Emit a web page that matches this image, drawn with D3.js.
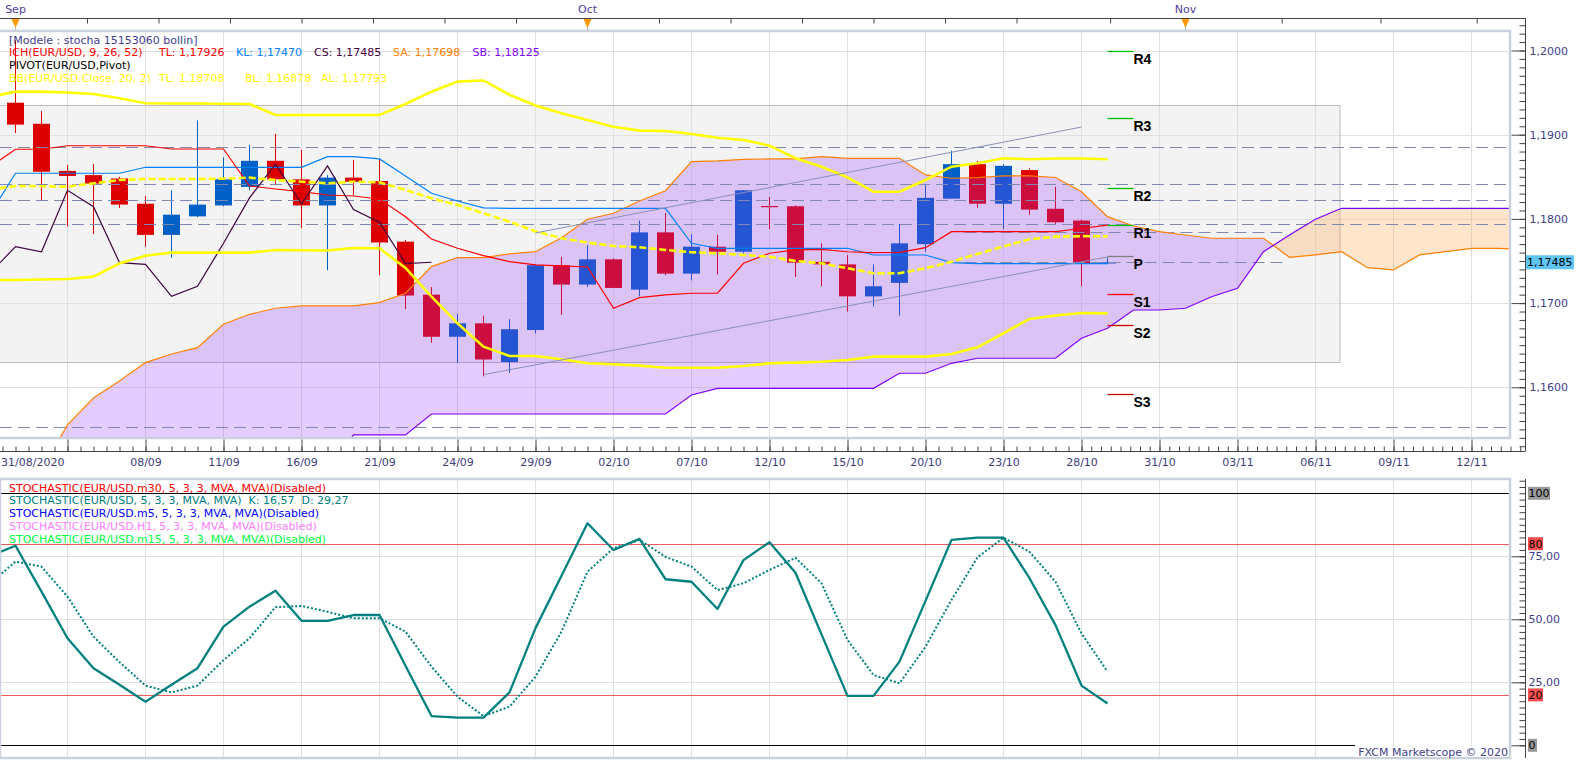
<!DOCTYPE html>
<html>
<head>
<meta charset="utf-8">
<script src="https://d3js.org/d3.v7.min.js"></script>
<style>
  body { margin: 0; background: #fff; }
  text { font-family: "DejaVu Sans", Verdana, sans-serif; font-size: 11px; }
</style>
</head>
<body>
<svg width="1583" height="760"></svg>
<script>
// ---- candles, one per trading day, index 0 = 01/09/2020 ... 42 = 29/10/2020
var opens  = [1.1938,1.1913,1.1857,1.1852,1.1848,1.1818,1.1781,1.1803,1.1816,1.1838,1.1869,1.1847,1.1816,1.1849,1.1845,1.1773,1.1710,1.1660,1.1676,1.1630,1.1668,1.1745,1.1722,1.1752,1.1716,1.1784,1.1735,1.1767,1.1761,1.18153,1.1815,1.1749,1.1746,1.1708,1.1724,1.1770,1.1824,1.1865,1.1818,1.1858,1.1812,1.1798,1.1748];
var highs  = [1.2012,1.1928,1.1864,1.1865,1.1850,1.1827,1.1834,1.1917,1.1873,1.1888,1.1901,1.1882,1.1852,1.1870,1.1871,1.1775,1.1719,1.1687,1.1685,1.1681,1.1746,1.1755,1.1769,1.1753,1.1798,1.1807,1.1782,1.1781,1.1834,1.1826,1.1816,1.1771,1.1757,1.1746,1.1794,1.1840,1.1881,1.1869,1.1865,1.1860,1.1838,1.1799,1.1754];
var lows   = [1.1902,1.1822,1.1791,1.1782,1.1813,1.1767,1.1754,1.1802,1.1815,1.1834,1.1840,1.1789,1.1739,1.1828,1.1733,1.1693,1.1653,1.1629,1.1613,1.1617,1.1664,1.1686,1.1719,1.1718,1.1708,1.1733,1.1727,1.1734,1.1759,1.1788,1.1731,1.1720,1.1690,1.1696,1.1685,1.1761,1.1824,1.1813,1.1788,1.1805,1.1794,1.1720,1.1746];
var closes = [1.1912,1.1856,1.1851,1.1842,1.1817,1.1781,1.1805,1.1817,1.1847,1.1869,1.1847,1.1816,1.1849,1.1844,1.1772,1.1709,1.1660,1.1676,1.1633,1.1669,1.1745,1.1722,1.1752,1.1718,1.1784,1.1735,1.1767,1.1761,1.1834,1.18145,1.1748,1.1746,1.1708,1.1720,1.1771,1.1825,1.1865,1.1818,1.1863,1.1811,1.1796,1.1747,1.17485];

// ---- ichimoku (tenkan / kijun start at index -1, senkou A / B start at index 1)
var tenkan = [1.18613,1.18827,1.18827,1.18869,1.18869,1.18869,1.18869,1.18830,1.18830,1.18830,1.18391,1.18355,1.18323,1.18284,1.18272,1.18236,1.18026,1.17761,1.17651,1.17563,1.17492,1.17453,1.17441,1.17429,1.16938,1.17064,1.17097,1.17117,1.17117,1.17473,1.17592,1.17631,1.17639,1.17610,1.17599,1.17603,1.17658,1.17848,1.17848,1.17848,1.17848,1.17848,1.17886,1.17926];
var kijun  = [1.18047,1.18542,1.18542,1.18542,1.18542,1.18542,1.18613,1.18613,1.18613,1.18613,1.18613,1.18613,1.18613,1.18739,1.18739,1.18712,1.18510,1.18304,1.18213,1.18130,1.18126,1.18126,1.18126,1.18126,1.18126,1.18126,1.18126,1.17710,1.17651,1.17651,1.17651,1.17651,1.17651,1.17651,1.17571,1.17571,1.17571,1.17480,1.17470,1.17470,1.17470,1.17470,1.17470,1.17470];
var senkouA = [1.15018,1.15553,1.15873,1.16075,1.16293,1.16396,1.16471,1.16749,1.16867,1.16939,1.16966,1.16966,1.16966,1.17005,1.17117,1.17433,1.17540,1.17540,1.17584,1.17611,1.17777,1.17996,1.18067,1.18213,1.18335,1.18680,1.18688,1.18708,1.18712,1.18712,1.18739,1.18720,1.18720,1.18720,1.18522,1.18483,1.18490,1.18510,1.18510,1.18492,1.18323,1.18027,1.17916,1.17848,1.17809,1.17770,1.17770,1.17770,1.17544,1.17572,1.17611,1.17421,1.17394,1.17572,1.17611,1.17651,1.17651,1.17637];
var senkouB = [1.1501,1.1501,1.1501,1.1501,1.1501,1.1501,1.1501,1.1501,1.1501,1.1501,1.1501,1.1501,1.15434,1.15434,1.15434,1.15683,1.15683,1.15683,1.15683,1.15683,1.15683,1.15683,1.15683,1.15683,1.15683,1.15909,1.15988,1.15988,1.15988,1.15988,1.15988,1.15988,1.15988,1.16167,1.16167,1.16285,1.16345,1.16345,1.16345,1.16345,1.16582,1.16701,1.16918,1.16918,1.16939,1.17076,1.17176,1.17611,1.17809,1.17996,1.18126,1.18126,1.18126,1.18126,1.18126,1.18126,1.18126,1.18126];

// ---- bollinger (start at index -1)
var bbUpper = [1.19446,1.19511,1.19511,1.19501,1.19484,1.19432,1.19373,1.19371,1.19371,1.19368,1.19365,1.19234,1.19234,1.19234,1.19234,1.19234,1.19365,1.19511,1.19630,1.19644,1.19475,1.19347,1.19254,1.19175,1.19095,1.19048,1.19044,1.19008,1.18964,1.18937,1.18870,1.18720,1.18620,1.18494,1.18323,1.18323,1.18462,1.18620,1.18661,1.18720,1.18708,1.18717,1.18717,1.18708];
var bbMid   = [1.18345,1.18391,1.18388,1.18383,1.18423,1.18462,1.18474,1.18474,1.18474,1.18478,1.18490,1.18462,1.18442,1.18423,1.18442,1.18435,1.18344,1.18245,1.18165,1.18067,1.17967,1.17851,1.17770,1.17718,1.17679,1.17663,1.17631,1.17604,1.17592,1.17572,1.17551,1.17500,1.17473,1.17414,1.17354,1.17354,1.17414,1.17492,1.17584,1.17673,1.17758,1.17789,1.17795,1.17793];
var bbLower = [1.17275,1.17275,1.17281,1.17287,1.17314,1.17471,1.17563,1.17599,1.17599,1.17599,1.17599,1.17631,1.17627,1.17625,1.17655,1.17651,1.17417,1.17076,1.16760,1.16483,1.16372,1.16372,1.16333,1.16285,1.16274,1.16257,1.16233,1.16233,1.16233,1.16253,1.16285,1.16293,1.16304,1.16325,1.16364,1.16364,1.16364,1.16396,1.16475,1.16642,1.16812,1.16853,1.16883,1.16878];

// ---- stochastic (start at index -1)
var stochK = [75,79.2,61,42.5,30.6,24,17.3,24,30.6,47.1,55.0,61.3,49.4,49.4,51.7,51.7,31.6,11.6,11.0,11.0,21.0,46.5,67.3,88.1,77.5,81.9,65.9,64.9,54.1,73.5,80.6,68.5,44,19.6,19.6,33.2,57.3,81.5,82.4,82.4,66.3,47.7,23.7,16.57];
var stochD = [64,72.9,70.9,59.0,43.1,33,23.7,21.0,23.7,33.8,42.5,54.8,55.3,53.0,50.4,50.4,45.1,31.2,19.3,11.6,15.3,27.2,45.1,68.9,78.2,81.5,74.8,70.9,61.6,64.3,69.6,74.4,64.3,41.8,27.9,24.6,39.1,57.7,74.6,82.4,76.8,64.9,44.4,29.27];

// ---- pivot levels
var pivotNames  = ["R4", "R3", "R2", "R1", "P", "S1", "S2", "S3"];
var pivotValues = [1.2000, 1.19193, 1.18364, 1.17928, 1.17560, 1.17108, 1.16737, 1.15917];
var pivotColors = ["#00c000", "#00c000", "#00c000", "#00c000", "#808080", "#ff0000", "#cc0000", "#c00000"];

// ---- drawn objects
var levelLines = [1.18854, 1.18415, 1.18221, 1.17940, 1.15529];
var shortLevels = [[36.5, 48.75, 1.17848], [36.5, 48.75, 1.17488]];
var trendLines = [[[20, 1.17833], [41, 1.19091]], [[18, 1.1615], [42.2, 1.1756]]];
var zoneBox = { i0: -2, i1: 50.94, top: 1.19353, bottom: 1.16301 };

// ---- axis labels
var dateTickIdx = [-1, 5, 8, 11, 14, 17, 20, 23, 26, 29, 32, 35, 38, 41, 44, 47, 50, 53, 56];
var dateLabels = ["31/08/2020", "08/09", "11/09", "16/09", "21/09", "24/09", "29/09", "02/10", "07/10", "12/10", "15/10", "20/10", "23/10", "28/10", "31/10", "03/11", "06/11", "09/11", "12/11"];
var months = ["Sep", "Oct", "Nov"];
var monthIdx = [0, 22, 45];
var topTickIdx = [2.75, 5.5, 8.25, 11, 13.75, 16.5, 19.25, 24.75, 27.5, 30.25, 33, 35.75, 38.5, 42.1, 48.7, 52.5, 56.2];
var priceTicks = [1.16, 1.17, 1.18, 1.19, 1.20];
var lastPrice = 1.17485;

var svg = d3.select("svg");
var H = 760, plotR = 1510, axisX = 1525.5;
var mainTop = 31, mainBot = 438, lowTop = 479, lowBot = 758;

var x = d3.scaleLinear().domain([0, 57]).range([15.5, 1497.5]);
var y = d3.scaleLinear().domain([1.16, 1.20]).range([387.3, 50.5]);
var ys = d3.scaleLinear().domain([0, 100]).range([745.3, 493.3]);

function series(arr, start) { return arr.map(function (v, k) { return [start + k, v]; }); }
var priceLine = d3.line().x(function (d) { return x(d[0]); }).y(function (d) { return y(d[1]); });
var stochLine = d3.line().x(function (d) { return x(d[0]); }).y(function (d) { return ys(d[1]); });
var gridIdx = d3.range(2, 57, 3);
var fmtPrice = function (v) { return d3.format(".4f")(v).replace(".", ","); };

var defs = svg.append("defs");
defs.append("clipPath").attr("id", "mainClip").append("rect")
  .attr("x", 0).attr("y", mainTop).attr("width", plotR).attr("height", mainBot - mainTop);
defs.append("clipPath").attr("id", "lowClip").append("rect")
  .attr("x", 0).attr("y", lowTop).attr("width", plotR).attr("height", lowBot - lowTop);

// ================= main panel =================
var g = svg.append("g").attr("clip-path", "url(#mainClip)");

g.append("rect")
  .attr("x", x(zoneBox.i0)).attr("y", y(zoneBox.top))
  .attr("width", x(zoneBox.i1) - x(zoneBox.i0)).attr("height", y(zoneBox.bottom) - y(zoneBox.top))
  .attr("fill", "#f3f3f3");

g.selectAll(".vgrid").data(gridIdx).enter().append("line")
  .attr("x1", function (d) { return x(d); }).attr("x2", function (d) { return x(d); })
  .attr("y1", mainTop).attr("y2", mainBot).attr("stroke", "#e0e0e0");
g.selectAll(".hgrid").data(priceTicks).enter().append("line")
  .attr("x1", 0).attr("x2", plotR)
  .attr("y1", function (d) { return Math.round(y(d)) + 0.5; }).attr("y2", function (d) { return Math.round(y(d)) + 0.5; })
  .attr("stroke", "#e0e0e0");

g.append("rect")
  .attr("x", x(zoneBox.i0)).attr("y", Math.round(y(zoneBox.top)) + 0.5)
  .attr("width", x(zoneBox.i1) - x(zoneBox.i0)).attr("height", Math.round(y(zoneBox.bottom) - y(zoneBox.top)))
  .attr("fill", "none").attr("stroke", "#bdbdbd");

// candles
var candles = opens.map(function (o, i) { return { i: i, o: o, h: highs[i], l: lows[i], c: closes[i] }; });
var cg = g.append("g");
cg.selectAll(".wick").data(candles).enter().append("line")
  .attr("x1", function (d) { return x(d.i); }).attr("x2", function (d) { return x(d.i); })
  .attr("y1", function (d) { return y(d.h); }).attr("y2", function (d) { return y(d.l); })
  .attr("stroke", function (d) { return d.c >= d.o ? "#0060c6" : "#dd0000"; });
cg.selectAll(".body").data(candles).enter().append("rect")
  .attr("x", function (d) { return x(d.i) - 8.5; })
  .attr("width", 17)
  .attr("y", function (d) { return y(Math.max(d.o, d.c)); })
  .attr("height", function (d) { return Math.max(1.2, Math.abs(y(d.o) - y(d.c))); })
  .attr("fill", function (d) { return d.c >= d.o ? "#0060c6" : "#dd0000"; });

// kumo (semi transparent, over the candles)
var cloud = senkouA.map(function (a, k) { return { i: 1 + k, a: a, b: senkouB[k] }; });
var aboveB = d3.area().x(function (d) { return x(d.i); }).y0(0).y1(function (d) { return y(d.b); });
var belowB = d3.area().x(function (d) { return x(d.i); }).y0(H).y1(function (d) { return y(d.b); });
var band = d3.area().x(function (d) { return x(d.i); }).y0(function (d) { return y(d.b); }).y1(function (d) { return y(d.a); });
defs.append("clipPath").attr("id", "bullClip").append("path").attr("d", aboveB(cloud));
defs.append("clipPath").attr("id", "bearClip").append("path").attr("d", belowB(cloud));
g.append("path").attr("d", band(cloud)).attr("clip-path", "url(#bullClip)")
  .attr("fill", "rgb(153,51,255)").attr("fill-opacity", 0.25);
g.append("path").attr("d", band(cloud)).attr("clip-path", "url(#bearClip)")
  .attr("fill", "rgb(255,153,51)").attr("fill-opacity", 0.25);

// dashed level lines
g.selectAll(".lvl").data(levelLines).enter().append("line")
  .attr("x1", 0).attr("x2", plotR)
  .attr("y1", function (d) { return Math.round(y(d)) + 0.5; }).attr("y2", function (d) { return Math.round(y(d)) + 0.5; })
  .attr("stroke", "#8088b0").attr("stroke-dasharray", "12,6");
g.selectAll(".slvl").data(shortLevels).enter().append("line")
  .attr("x1", function (d) { return x(d[0]); }).attr("x2", function (d) { return x(d[1]); })
  .attr("y1", function (d) { return Math.round(y(d[2])) + 0.5; }).attr("y2", function (d) { return Math.round(y(d[2])) + 0.5; })
  .attr("stroke", "#8088b0").attr("stroke-dasharray", "12,6");

// ichimoku lines
function drawPrice(data, color, width, dash) {
  var p = g.append("path").attr("d", priceLine(data)).attr("fill", "none")
    .attr("stroke", color).attr("stroke-width", width);
  if (dash) p.attr("stroke-dasharray", dash);
  return p;
}
drawPrice(cloud.map(function (d) { return [d.i, d.a]; }), "#ff8000", 1.2);
drawPrice(cloud.map(function (d) { return [d.i, d.b]; }), "#8000ff", 1.2);
drawPrice(series(kijun, -1), "#0080ff", 1.2);
drawPrice(series(tenkan, -1), "#ff0000", 1.2);
drawPrice(series(closes, -26).filter(function (d) { return d[0] >= -1; }), "#400040", 1.2);

// bollinger
drawPrice(series(bbUpper, -1), "#ffff00", 2.6);
drawPrice(series(bbLower, -1), "#ffff00", 2.6);
drawPrice(series(bbMid, -1), "#ffff00", 2.6, "7,3");

// trend lines
trendLines.forEach(function (t) { drawPrice(t, "#8890b8", 1); });

// pivots
var pv = pivotNames.map(function (n, k) { return { n: n, v: pivotValues[k], c: pivotColors[k] }; });
g.selectAll(".piv").data(pv).enter().append("line")
  .attr("x1", x(42)).attr("x2", x(43))
  .attr("y1", function (d) { return Math.round(y(d.v)) + 0.5; }).attr("y2", function (d) { return Math.round(y(d.v)) + 0.5; })
  .attr("stroke", function (d) { return d.c; }).attr("stroke-width", 1.3);
g.selectAll(".pivt").data(pv).enter().append("text")
  .attr("x", x(43)).attr("y", function (d) { return y(d.v) + 13; })
  .style("font-family", "'Liberation Sans', Arial, sans-serif").style("font-size", "14px")
  .style("font-weight", "bold").attr("fill", "#000").text(function (d) { return d.n; });

// main plot frame
svg.append("path")
  .attr("d", "M0," + mainTop + "H" + plotR + "V" + mainBot + "H0")
  .attr("fill", "none").attr("stroke", "#c9d1de").attr("stroke-width", 2.5);

// legend, top left
function legendLine(yy, parts) {
  var t = svg.append("text").attr("y", yy);
  parts.forEach(function (p) { t.append("tspan").attr("x", p[0]).attr("fill", p[2]).text(p[1]); });
}
legendLine(43.5, [[9, "[Modele : stocha 15153060 bollin]", "#404090"]]);
legendLine(56, [[9, "ICH(EUR/USD, 9, 26, 52)", "#ff0000"], [159, "TL: 1,17926", "#ff0000"], [236, "KL: 1,17470", "#0080ff"],
  [314, "CS: 1,17485", "#400040"], [393, "SA: 1,17698", "#ff8000"], [472.5, "SB: 1,18125", "#8000ff"]]);
legendLine(69, [[9, "PIVOT(EUR/USD,Pivot)", "#000000"]]);
legendLine(82, [[9, "BB(EUR/USD.Close, 20, 2)", "#ffff00"], [159, "TL: 1,18708", "#ffff00"], [245, "BL: 1,16878", "#ffff00"], [321, "AL: 1,17793", "#ffff00"]]);

// ---- top time axis
svg.append("line").attr("x1", 0).attr("x2", axisX).attr("y1", 18.5).attr("y2", 18.5).attr("stroke", "#444");
svg.append("g").attr("transform", "translate(0,18.5)")
  .call(d3.axisBottom(x).tickValues(topTickIdx).tickSize(5).tickFormat(""))
  .call(function (s) { s.select(".domain").remove(); s.selectAll("line").attr("stroke", "#444"); });
monthIdx.forEach(function (m, k) {
  var mx = x(m);
  svg.append("path").attr("d", "M" + (mx - 4) + ",19 L" + (mx + 4) + ",19 L" + mx + ",28 Z").attr("fill", "#ff9900");
  svg.append("line").attr("x1", mx).attr("x2", mx).attr("y1", 27).attr("y2", 31).attr("stroke", "#c0c0c0");
  svg.append("text").attr("x", mx).attr("y", 13).attr("text-anchor", "middle").attr("fill", "#50409a").text(months[k]);
});

// ---- price axis
svg.append("line").attr("x1", axisX).attr("x2", axisX).attr("y1", 18).attr("y2", 451).attr("stroke", "#444");
var minorPrice = d3.range(1153, 1204).map(function (d) { return d / 1000; });
svg.append("g").attr("transform", "translate(" + axisX + ",0)")
  .call(d3.axisLeft(y).tickValues(minorPrice).tickSize(6).tickFormat(""))
  .call(function (s) { s.select(".domain").remove(); s.selectAll("line").attr("stroke", "#444"); });
svg.append("g").attr("transform", "translate(" + axisX + ",0)")
  .call(d3.axisLeft(y).tickValues(priceTicks).tickSize(14).tickFormat(""))
  .call(function (s) { s.select(".domain").remove(); s.selectAll("line").attr("stroke", "#444"); });
svg.append("g").attr("transform", "translate(" + axisX + ",0)")
  .call(d3.axisRight(y).tickValues(priceTicks).tickSize(0).tickPadding(4).tickFormat(fmtPrice))
  .call(function (s) {
    s.select(".domain").remove();
    s.selectAll("text").attr("fill", "#40408a").style("font-size", "11px").style("font-family", "'DejaVu Sans', Verdana, sans-serif");
  });
svg.append("rect").attr("x", 1526).attr("y", y(lastPrice) - 7).attr("width", 48).attr("height", 14).attr("fill", "#5ec5f5");
svg.append("text").attr("x", 1527).attr("y", y(lastPrice) + 4).attr("fill", "#000").text(fmtPrice(lastPrice).replace(/(\d{4})$/, "$1") && d3.format(".5f")(lastPrice).replace(".", ","));

// ---- bottom date axis
svg.append("line").attr("x1", 0).attr("x2", axisX).attr("y1", 451.5).attr("y2", 451.5).attr("stroke", "#444");
var minorX = d3.range(-2, 41, 0.5).concat(d3.range(41, 58, 0.375));
svg.append("g").attr("transform", "translate(0,451.5)")
  .call(d3.axisTop(x).tickValues(minorX).tickSize(5).tickFormat(""))
  .call(function (s) { s.select(".domain").remove(); s.selectAll("line").attr("stroke", "#444"); });
svg.append("g").attr("transform", "translate(0,451.5)")
  .call(d3.axisTop(x).tickValues(gridIdx).tickSize(12).tickFormat(""))
  .call(function (s) { s.select(".domain").remove(); s.selectAll("line").attr("stroke", "#444"); });
svg.append("g").attr("transform", "translate(0,455)")
  .call(d3.axisBottom(x).tickValues(dateTickIdx).tickSize(0).tickPadding(3)
    .tickFormat(function (d) { return dateLabels[dateTickIdx.indexOf(d)]; }))
  .call(function (s) {
    s.select(".domain").remove();
    s.selectAll("text").attr("fill", "#3d3d7a").style("font-size", "11px").style("font-family", "'DejaVu Sans', Verdana, sans-serif");
    s.selectAll(".tick").filter(function (d) { return d === -1; })
      .attr("transform", "translate(1,0)").select("text").attr("text-anchor", "start");
  });

// ================= stochastic panel =================
var lg = svg.append("g").attr("clip-path", "url(#lowClip)");
lg.selectAll(".vgrid").data(gridIdx).enter().append("line")
  .attr("x1", function (d) { return x(d); }).attr("x2", function (d) { return x(d); })
  .attr("y1", lowTop).attr("y2", lowBot).attr("stroke", "#e0e0e0");
lg.selectAll(".hgrid").data([25, 50, 75]).enter().append("line")
  .attr("x1", 0).attr("x2", plotR)
  .attr("y1", function (d) { return Math.round(ys(d)) + 0.5; }).attr("y2", function (d) { return Math.round(ys(d)) + 0.5; })
  .attr("stroke", "#e0e0e0");
lg.selectAll(".obos").data([80, 20]).enter().append("line")
  .attr("x1", 0).attr("x2", plotR)
  .attr("y1", function (d) { return Math.round(ys(d)) + 0.5; }).attr("y2", function (d) { return Math.round(ys(d)) + 0.5; })
  .attr("stroke", "#f05a5a");
lg.append("line").attr("x1", 0).attr("x2", plotR).attr("y1", Math.round(ys(100)) + 0.5).attr("y2", Math.round(ys(100)) + 0.5).attr("stroke", "#000");
lg.append("line").attr("x1", 0).attr("x2", 1355).attr("y1", Math.round(ys(0)) + 0.5).attr("y2", Math.round(ys(0)) + 0.5).attr("stroke", "#000");

lg.append("path").attr("d", stochLine(series(stochD, -1))).attr("fill", "none")
  .attr("stroke", "#008080").attr("stroke-width", 2).attr("stroke-dasharray", "2,2");
lg.append("path").attr("d", stochLine(series(stochK, -1))).attr("fill", "none")
  .attr("stroke", "#008080").attr("stroke-width", 2.3).attr("stroke-linejoin", "round");

svg.append("rect").attr("x", 0).attr("y", lowTop).attr("width", plotR).attr("height", lowBot - lowTop)
  .attr("fill", "none").attr("stroke", "#c9d1de").attr("stroke-width", 2.5);

// stochastic legend
var stochLegend = [
  ["STOCHASTIC(EUR/USD.m30, 5, 3, 3, MVA, MVA)(Disabled)", "#ff0000"],
  ["STOCHASTIC(EUR/USD, 5, 3, 3, MVA, MVA)  K: 16,57  D: 29,27", "#008080"],
  ["STOCHASTIC(EUR/USD.m5, 5, 3, 3, MVA, MVA)(Disabled)", "#0000ff"],
  ["STOCHASTIC(EUR/USD.H1, 5, 3, 3, MVA, MVA)(Disabled)", "#ff80ff"],
  ["STOCHASTIC(EUR/USD.m15, 5, 3, 3, MVA, MVA)(Disabled)", "#00ff40"]
];
svg.selectAll(".slg").data(stochLegend).enter().append("text")
  .attr("x", 9).attr("y", function (d, i) { return 491.5 + i * 12.9; })
  .attr("fill", function (d) { return d[1]; }).style("white-space", "pre").text(function (d) { return d[0]; });

// stochastic axis
svg.append("line").attr("x1", axisX).attr("x2", axisX).attr("y1", lowTop).attr("y2", lowBot).attr("stroke", "#444");
svg.append("g").attr("transform", "translate(" + axisX + ",0)")
  .call(d3.axisLeft(ys).tickValues(d3.range(0, 106, 2.5)).tickSize(6).tickFormat(""))
  .call(function (s) { s.select(".domain").remove(); s.selectAll("line").attr("stroke", "#444"); });
svg.append("g").attr("transform", "translate(" + axisX + ",0)")
  .call(d3.axisLeft(ys).tickValues([0, 25, 50, 75]).tickSize(14).tickFormat(""))
  .call(function (s) { s.select(".domain").remove(); s.selectAll("line").attr("stroke", "#444"); });
svg.append("g").attr("transform", "translate(" + axisX + ",0)")
  .call(d3.axisRight(ys).tickValues([25, 50, 75]).tickSize(0).tickPadding(3)
    .tickFormat(function (d) { return d3.format(".2f")(d).replace(".", ","); }))
  .call(function (s) {
    s.select(".domain").remove();
    s.selectAll("text").attr("fill", "#40408a").style("font-size", "11px").style("font-family", "'DejaVu Sans', Verdana, sans-serif");
  });
var badges = [[100, "100", "#999999", 22], [80, "80", "#ff5050", 15], [20, "20", "#ff5050", 15], [0, "0", "#999999", 9]];
badges.forEach(function (b) {
  svg.append("rect").attr("x", 1528).attr("y", ys(b[0]) - 6.5).attr("width", b[3]).attr("height", 13).attr("fill", b[2]);
  svg.append("text").attr("x", 1528.5).attr("y", ys(b[0]) + 4).attr("fill", "#000").text(b[1]);
});

svg.append("rect").attr("x", 1355).attr("y", 746.5).attr("width", 154).attr("height", 10.5).attr("fill", "#fff");
svg.append("text").attr("x", 1508).attr("y", 756).attr("text-anchor", "end").attr("fill", "#40408a")
  .text("FXCM Marketscope \u00a9 2020");
</script>
</body>
</html>
